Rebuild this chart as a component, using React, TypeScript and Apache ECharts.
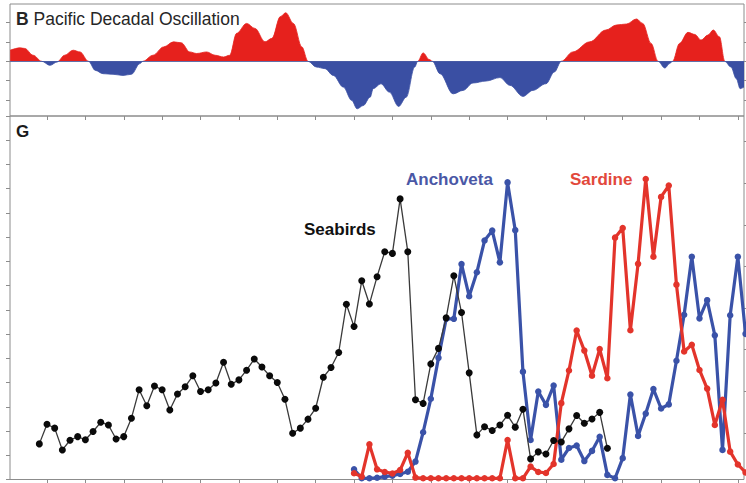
import React, { useEffect, useRef } from "react";
import * as echarts from "echarts";

// ---- Panel B: Pacific Decadal Oscillation (smoothed index, traced points) ----
const pdoYears = [
  1905.2, 1906.5, 1907.1, 1908.2, 1909.3, 1910.4, 1911.3, 1912.3, 1913.4, 1914.3,
  1915.4, 1916.3, 1917.3, 1918.6, 1919.9, 1921.0, 1922.1, 1922.5, 1923.8, 1925.2,
  1926.5, 1927.5, 1928.6, 1929.5, 1930.8, 1931.9, 1933.0, 1933.8, 1934.7, 1936.0,
  1937.1, 1938.4, 1939.3, 1940.4, 1941.1, 1942.1, 1943.2, 1944.0, 1945.1, 1946.2,
  1947.3, 1948.6, 1949.7, 1950.4, 1951.2, 1952.1, 1952.5, 1953.5, 1954.6, 1955.8,
  1956.8, 1957.9, 1958.3, 1959.0, 1959.8, 1960.2, 1961.2, 1962.9, 1964.2, 1965.5,
  1967.2, 1969.0, 1970.3, 1972.0, 1973.3, 1975.0, 1976.1, 1977.0, 1978.5, 1980.7,
  1982.8, 1984.2, 1985.5, 1986.8, 1987.6, 1988.7, 1989.6, 1990.5, 1991.1, 1991.5,
  1992.4, 1993.5, 1994.4, 1995.2, 1996.1, 1996.8, 1997.6, 1998.3, 1999.1, 1999.8,
  2000.3, 2000.8,
];
const pdoValues = [
  0.57, 0.69, 0.66, 0.31, 0.0, -0.21, -0.04, 0.31, 0.57, 0.48,
  0.0, -0.47, -0.64, -0.67, -0.73, -0.67, -0.12, 0.0, 0.31, 0.74,
  1.0, 0.95, 0.48, 0.4, 0.48, 0.31, 0.22, 0.31, 1.44, 1.95,
  1.69, 1.0, 1.18, 2.3, 2.5, 1.95, 0.74, 0.0, -0.3, -0.38,
  -0.73, -1.33, -2.02, -2.45, -2.28, -1.85, -1.41, -1.16, -1.59, -2.33,
  -1.85, -0.3, 0.0, 0.43, 0.09, 0.0, -0.64, -1.68, -1.5, -1.12,
  -1.02, -0.84, -1.24, -1.81, -1.5, -1.16, -0.55, 0.0, 0.48, 1.0,
  1.61, 1.87, 1.92, 2.18, 1.95, 0.92, 0.0, -0.35, -0.12, 0.0,
  0.92, 1.49, 1.38, 1.09, 1.35, 1.61, 1.26, 0.0, -0.3, -0.9,
  -1.41, -1.33,
];

// ---- Panel G: annual series (relative units) ----
const seabirdStartYear = 1909;
const seabirds = [
  1.47, 2.28, 2.12, 1.22, 1.62, 1.77, 1.64, 1.98, 2.36, 2.25,
  1.67, 1.77, 2.53, 3.7, 3.04, 3.86, 3.7, 2.87, 3.53, 3.83,
  4.28, 3.63, 3.7, 3.98, 4.84, 3.93, 4.11, 4.51, 4.97, 4.64,
  4.28, 4.0, 3.31, 1.91, 2.12, 2.49, 2.94, 4.22, 4.62, 5.24,
  7.23, 6.31, 8.2, 7.24, 8.37, 9.4, 9.33, 11.58, 9.4, 3.29,
  3.14, 4.77, 5.41, 6.67, 8.41, 6.89, 4.4, 1.84, 2.18, 2.02,
  2.25, 2.65, 2.16, 2.9, 0.85, 1.14, 1.05, 1.61, 1.55, 2.09,
  2.64, 2.32, 2.5, 2.77, 1.29,
];
const fishStartYear = 1950;
const anchoveta = [
  0.42, 0.05, 0.05, 0.07, 0.12, 0.16, 0.23, 0.32, 0.74, 1.95,
  3.33, 5.02, 6.63, 6.63, 8.89, 7.56, 8.55, 9.86, 10.27, 8.96,
  12.26, 10.29, 4.45, 1.63, 3.63, 3.08, 3.88, 0.82, 1.3, 1.4,
  0.76, 1.18, 1.76, 0.19, 0.05, 0.88, 3.51, 1.8, 2.72, 3.73,
  2.93, 3.1, 4.9, 6.8, 9.19, 6.65, 7.4, 5.95, 1.22, 6.78,
  9.19, 6.01,
];
const sardine = [
  0.26, 0.12, 1.45, 0.42, 0.31, 0.25, 0.39, 1.1, 0.08, 0.05,
  0.05, 0.05, 0.05, 0.05, 0.05, 0.05, 0.05, 0.05, 0.05, 0.05,
  1.63, 0.05, 0.05, 0.53, 0.31, 0.27, 0.64, 3.15, 4.5, 6.15,
  5.32, 4.28, 5.38, 4.18, 9.98, 10.38, 6.16, 8.9, 12.4, 9.19,
  11.66, 12.13, 8.04, 5.28, 5.56, 4.52, 3.75, 2.25, 3.29, 1.15,
  0.62, 0.29,
];

// ---- tick positions (unlabelled) ----
const xTickYears = [
  1910, 1915, 1920, 1925, 1930, 1935, 1940, 1945, 1950, 1955,
  1960, 1965, 1970, 1975, 1980, 1985, 1990, 1995, 2000,
];
const pdoTicks = [-2, -1, 0, 1, 2];
const rightTicksG = [0, 1, 2, 3, 4, 5, 6, 7, 8];

const panelTitle = "Pacific Decadal Oscillation";
const panelLetterTop = "B";
const panelLetterBottom = "G";
const seabirdLabel = "Seabirds";
const anchovetaLabel = "Anchoveta";
const sardineLabel = "Sardine";

export default function App() {
  const ref = useRef<HTMLDivElement>(null);

  useEffect(() => {
    if (!ref.current) return;
    const chart = echarts.init(ref.current, null, { renderer: "svg" });

    const pairs = (start: number, vals: number[]) =>
      vals.map((v, i) => [start + i, v]);
    const pdoData = pdoYears.map((y, i) => [y, pdoValues[i]]);

    const X_MIN = 1905.18;
    const X_MAX = 2000.8;
    const frame = "#8c8c8c";
    const font = '"Liberation Sans", Arial, sans-serif';
    const red = "#e6211d";
    const blue = "#3a4fa3";
    const lineRed = "#e3342b";
    const lineBlue = "#3a52a8";

    const hiddenLabel = { show: false };

    const option: any = {
      animation: false,
      grid: [
        {
          left: 10, top: 4, width: 734, height: 112,
          show: true, borderColor: frame, borderWidth: 1,
          backgroundColor: "transparent",
        },
        {
          left: 10, top: 116, width: 734, height: 363.5,
          show: true, borderColor: frame, borderWidth: 1,
          backgroundColor: "transparent",
        },
      ],
      visualMap: [
        {
          show: false,
          type: "piecewise",
          seriesIndex: 0,
          dimension: 1,
          pieces: [
            { gt: -10, lte: 0, color: blue },
            { gt: 0, lte: 10, color: red },
          ],
        },
      ],
      xAxis: [
        {
          gridIndex: 0, type: "value", min: X_MIN, max: X_MAX,
          axisLine: { show: true, onZero: true, lineStyle: { color: "#6f7bab", width: 1 } },
          axisTick: { show: false },
          axisLabel: hiddenLabel, splitLine: { show: false },
        },
        {
          gridIndex: 1, type: "value", min: X_MIN, max: X_MAX, position: "bottom",
          axisLine: { show: false, onZero: false },
          axisTick: { show: true, inside: false, length: 4, customValues: xTickYears, lineStyle: { color: frame } },
          axisLabel: hiddenLabel, splitLine: { show: false },
        },
        {
          gridIndex: 1, type: "value", min: X_MIN, max: X_MAX, position: "top",
          axisLine: { show: false, onZero: false },
          axisTick: { show: true, inside: true, length: 4, customValues: xTickYears, lineStyle: { color: frame } },
          axisLabel: hiddenLabel, splitLine: { show: false },
        },
      ],
      yAxis: [
        {
          gridIndex: 0, type: "value", min: -2.82, max: 2.95, position: "left",
          axisLine: { show: false },
          axisTick: { show: true, inside: false, length: 4, customValues: pdoTicks, lineStyle: { color: frame } },
          axisLabel: hiddenLabel, splitLine: { show: false },
        },
        {
          gridIndex: 0, type: "value", min: -2.82, max: 2.95, position: "right",
          axisLine: { show: false },
          axisTick: { show: true, inside: false, length: 3, customValues: pdoTicks, lineStyle: { color: frame } },
          axisLabel: hiddenLabel, splitLine: { show: false },
        },
        {
          gridIndex: 1, type: "value", min: 0, max: 15, interval: 1, position: "left",
          axisLine: { show: false },
          axisTick: { show: true, inside: false, length: 4, lineStyle: { color: frame } },
          axisLabel: hiddenLabel, splitLine: { show: false },
        },
        {
          gridIndex: 1, type: "value", min: -0.12, max: 8.618, position: "right",
          axisLine: { show: false },
          axisTick: { show: true, inside: false, length: 3, customValues: rightTicksG, lineStyle: { color: frame } },
          axisLabel: hiddenLabel, splitLine: { show: false },
        },
      ],
      series: [
        {
          name: "PDO",
          type: "line",
          xAxisIndex: 0, yAxisIndex: 0,
          data: pdoData,
          smooth: 0.35,
          smoothMonotone: "x",
          showSymbol: false,
          symbol: "none",
          lineStyle: { width: 0.8 },
          areaStyle: { opacity: 1 },
          z: 2,
        },
        {
          name: anchovetaLabel,
          type: "line",
          xAxisIndex: 1, yAxisIndex: 2,
          data: pairs(fishStartYear, anchoveta),
          clip: false,
          symbol: "circle", symbolSize: 6.5, showSymbol: true,
          lineStyle: { color: lineBlue, width: 3.2 },
          itemStyle: { color: lineBlue },
          z: 3,
        },
        {
          name: sardineLabel,
          type: "line",
          xAxisIndex: 1, yAxisIndex: 2,
          data: pairs(fishStartYear, sardine),
          clip: false,
          symbol: "circle", symbolSize: 6.5, showSymbol: true,
          lineStyle: { color: lineRed, width: 3.2 },
          itemStyle: { color: lineRed },
          z: 4,
        },
        {
          name: seabirdLabel,
          type: "line",
          xAxisIndex: 1, yAxisIndex: 2,
          data: pairs(seabirdStartYear, seabirds),
          clip: false,
          symbol: "circle", symbolSize: 7, showSymbol: true,
          lineStyle: { color: "#3a3a3a", width: 1.3 },
          itemStyle: { color: "#0a0a0a" },
          z: 5,
        },
      ],
      graphic: [
        {
          type: "text", x: 16, y: 19, z: 100,
          style: {
            text: "{b|" + panelLetterTop + "} " + panelTitle,
            fontSize: 17.5, fontFamily: font, fill: "#262626",
            verticalAlign: "middle",
            rich: { b: { fontWeight: "bold", fontSize: 17.5, fontFamily: font, fill: "#262626" } },
          },
        },
        {
          type: "text", x: 16, y: 131, z: 100,
          style: { text: panelLetterBottom, fontSize: 17, fontWeight: "bold", fontFamily: font, fill: "#1a1a1a", verticalAlign: "middle" },
        },
        {
          type: "text", x: 304, y: 229, z: 100,
          style: { text: seabirdLabel, fontSize: 17, fontWeight: "bold", fontFamily: font, fill: "#111111", verticalAlign: "middle" },
        },
        {
          type: "text", x: 406, y: 179, z: 100,
          style: { text: anchovetaLabel, fontSize: 17, fontWeight: "bold", fontFamily: font, fill: "#4a58a6", verticalAlign: "middle" },
        },
        {
          type: "text", x: 570, y: 179, z: 100,
          style: { text: sardineLabel, fontSize: 17, fontWeight: "bold", fontFamily: font, fill: "#e2483b", verticalAlign: "middle" },
        },
      ],
    };

    chart.setOption(option);
    return () => chart.dispose();
  }, []);

  return (
    <div
      ref={ref}
      style={{ position: "absolute", left: 0, top: 0, width: 746, height: 483, background: "#ffffff" }}
    />
  );
}
